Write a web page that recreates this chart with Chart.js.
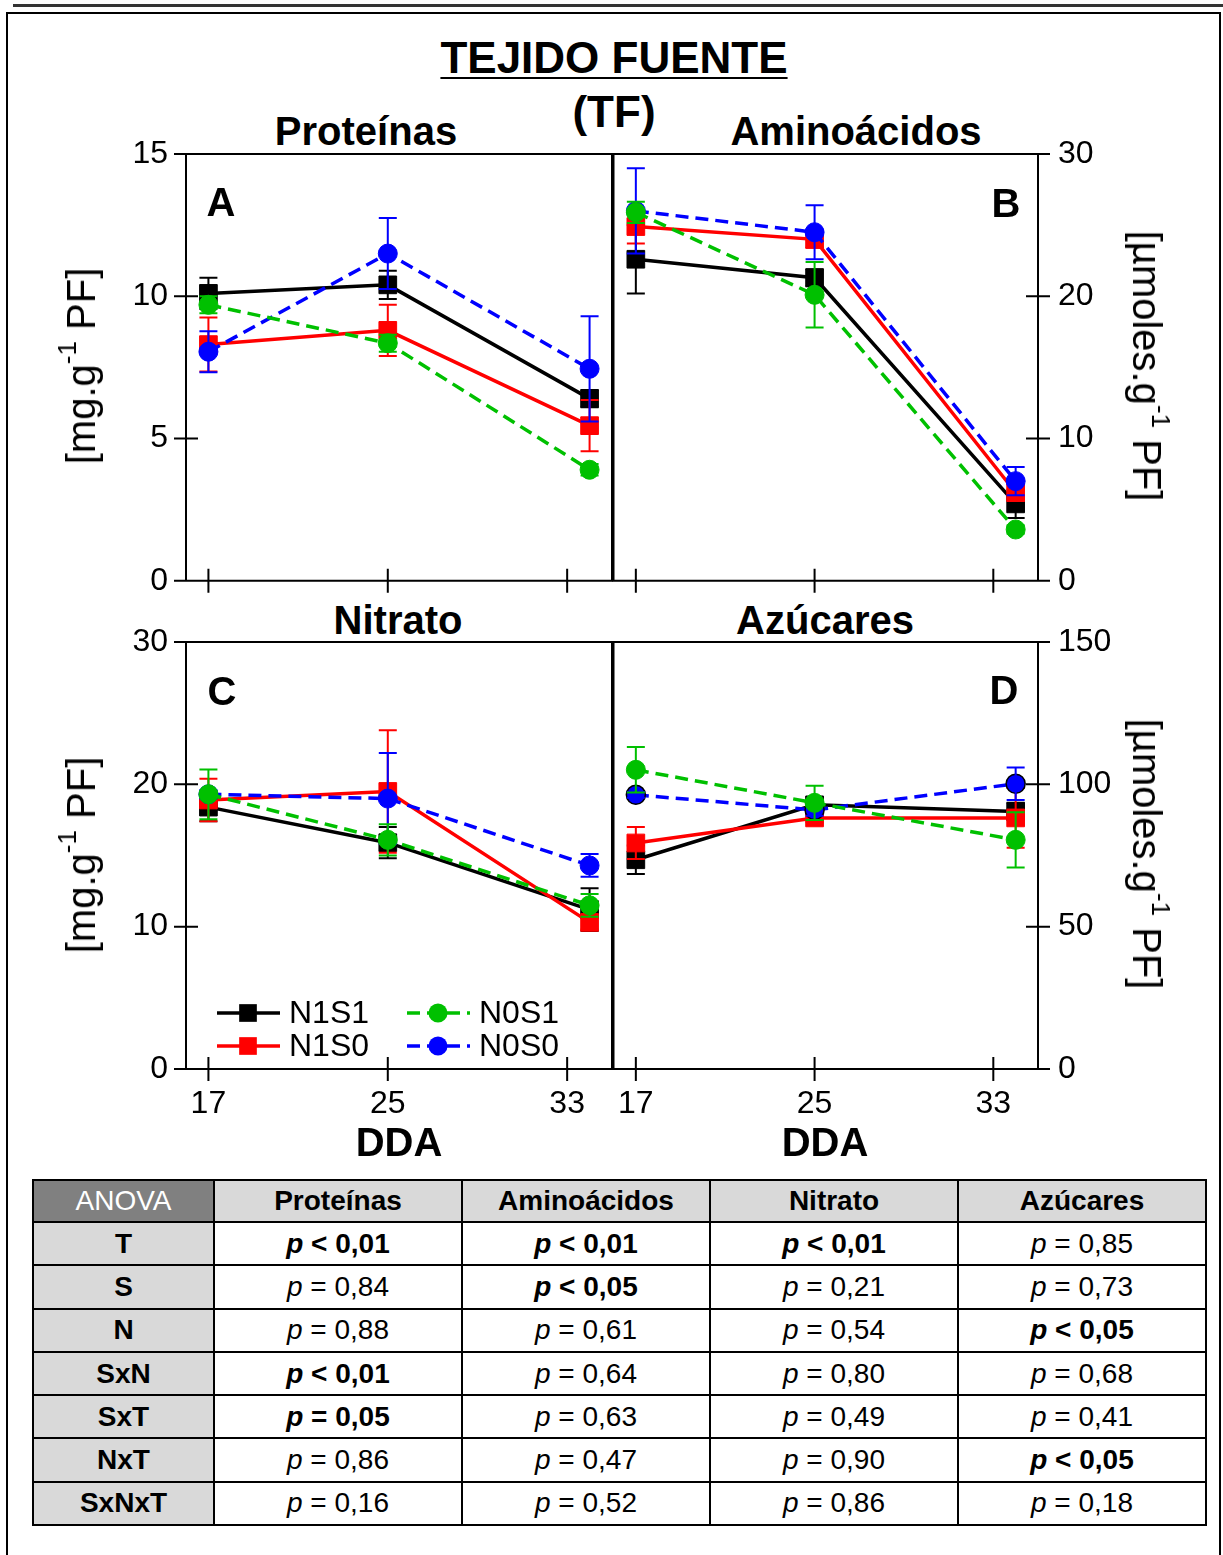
<!DOCTYPE html>
<html lang="es">
<head>
  <meta charset="UTF-8" />
  <title>Tejido fuente (TF)</title>
  <script src="https://cdn.jsdelivr.net/npm/chart.js@4"></script>
  <style>
    body {
      margin: 0;
      background: #fff;
      font-family: 'Liberation Sans', Arial, sans-serif;
      color: #000;
    }
    #hoja {
      position: relative;
      width: 1223px;
      height: 1555px;
      overflow: hidden;
    }
    .marco {
      position: absolute;
      left: 6px;
      top: 12px;
      width: 1215px;
      height: 1600px;
      border: 2px solid #000;
      box-sizing: border-box;
    }
    .linea-sup {
      position: absolute;
      left: 13px;
      top: 4px;
      width: 1210px;
      height: 3px;
      background: #333;
    }
    canvas { position: absolute; }
    .txt {
      position: absolute;
      white-space: nowrap;
      line-height: 1;
      transform: translate(-50%, -50%);
    }
    .titulo { font-size: 44px; font-weight: bold; }
    .subrayado {
      text-decoration: underline;
      text-decoration-thickness: 2px;
      text-underline-offset: 4px;
    }
    .sub { font-size: 40px; font-weight: bold; }
    .eje {
      position: absolute;
      white-space: nowrap;
      line-height: 1;
      font-size: 40px;
    }
    .eje sup { font-size: 26px; line-height: 0; vertical-align: 19px; }
    .izq { transform: translate(-50%, -50%) rotate(-90deg); }
    .der { transform: translate(-50%, -50%) rotate(90deg); }

    #anova {
      position: absolute;
      left: 32px;
      top: 1179px;
      border-collapse: collapse;
      table-layout: fixed;
      font-size: 28px;
    }
    #anova th, #anova td {
      border: 2px solid #000;
      text-align: center;
      padding: 0;
    }
    #anova th { height: 40px; background: #d9d9d9; font-weight: bold; }
    #anova th.esquina { background: #808080; color: #fff; font-weight: normal; }
    #anova td { height: 41.3px; }
    #anova td.efecto { background: #d9d9d9; font-weight: bold; }
  </style>
</head>
<body>
<div id="hoja">
  <div class="linea-sup"></div>
  <div class="marco"></div>

  <div class="txt titulo subrayado" style="left:614px; top:58px;">TEJIDO FUENTE</div>
  <div class="txt titulo" style="left:614px; top:112px;">(TF)</div>

  <div class="txt sub" style="left:366px; top:131px;">Proteínas</div>
  <div class="txt sub" style="left:856px; top:131px;">Aminoácidos</div>
  <div class="txt sub" style="left:398px; top:620px;">Nitrato</div>
  <div class="txt sub" style="left:825px; top:620px;">Azúcares</div>

  <!-- cada lienzo deja 40 px por encima y por debajo del área de trazado -->
  <canvas id="grafA" width="540" height="507" style="left:90px; top:114px;"></canvas>
  <canvas id="grafB" width="530" height="507" style="left:600px; top:114px;"></canvas>
  <canvas id="grafC" width="540" height="541" style="left:90px; top:602px;"></canvas>
  <canvas id="grafD" width="530" height="541" style="left:600px; top:602px;"></canvas>

  <div class="txt sub" style="left:221px; top:202px;">A</div>
  <div class="txt sub" style="left:1006px; top:203px;">B</div>
  <div class="txt sub" style="left:222px; top:691px;">C</div>
  <div class="txt sub" style="left:1004px; top:690px;">D</div>

  <div class="eje izq" style="left:81px; top:366px;">[mg.g<sup>-1</sup> PF]</div>
  <div class="eje izq" style="left:81px; top:855px;">[mg.g<sup>-1</sup> PF]</div>
  <div class="eje der" style="left:1147px; top:366px;">[µmoles.g<sup>-1</sup> PF]</div>
  <div class="eje der" style="left:1147px; top:854px;">[µmoles.g<sup>-1</sup> PF]</div>

  <div class="txt sub" style="left:399px; top:1142px;">DDA</div>
  <div class="txt sub" style="left:825px; top:1142px;">DDA</div>

  <table id="anova">
    <colgroup>
      <col style="width:181px"><col style="width:248px"><col style="width:248px"><col style="width:248px"><col style="width:248px">
    </colgroup>
    <thead></thead>
    <tbody></tbody>
  </table>
</div>

<script>
  const FUENTE = "'Liberation Sans', Arial, sans-serif";
  Chart.defaults.font.family = FUENTE;
  Chart.defaults.color = '#000';

  // días después de antesis
  const diasMuestreo = [17, 25, 34];
  const ticksDDA = [17, 25, 33];
  const tratamientos = ['N1S1', 'N1S0', 'N0S1', 'N0S0'];

  // medias y error estándar, una fila por tratamiento
  const proteinas     = [[10.1, 10.4, 6.4], [8.3, 8.8, 5.45], [9.7, 8.35, 3.9], [8.05, 11.5, 7.45]];
  const proteinasEE   = [[0.55, 0.5, 0.3], [0.95, 0.9, 0.9], [0.3, 0.3, 0.2], [0.72, 1.25, 1.85]];
  const aminoacidos   = [[22.6, 21.3, 5.4], [24.9, 24.0, 6.2], [25.9, 20.1, 3.6], [26.0, 24.5, 7.0]];
  const aminoacidosEE = [[2.4, 0.6, 1.0], [1.2, 0.6, 0.6], [0.75, 2.3, 0.3], [3.0, 1.9, 1.0]];
  const nitrato       = [[18.4, 15.9, 11.2], [18.9, 19.5, 10.3], [19.3, 16.1, 11.5], [19.3, 19.0, 14.3]];
  const nitratoEE     = [[1.0, 1.1, 1.5], [1.5, 4.3, 0.5], [1.75, 1.1, 0.8], [0.3, 3.2, 0.8]];
  const azucares      = [[73.5, 92.8, 90.5], [79.4, 88.2, 88.2], [105.1, 93.5, 80.5], [96.3, 91.0, 100.2]];
  const azucaresEE    = [[5.0, 2.5, 3.0], [5.6, 1.5, 10.5], [8.0, 6.0, 9.7], [1.0, 2.0, 5.7]];

  // tabla ANOVA
  const efectos = ['T', 'S', 'N', 'SxN', 'SxT', 'NxT', 'SxNxT'];
  const variables = ['Proteínas', 'Aminoácidos', 'Nitrato', 'Azúcares'];
  const pProteinas   = ['< 0,01', '= 0,84', '= 0,88', '< 0,01', '= 0,05', '= 0,86', '= 0,16'];
  const pAminoacidos = ['< 0,01', '< 0,05', '= 0,61', '= 0,64', '= 0,63', '= 0,47', '= 0,52'];
  const pNitrato     = ['< 0,01', '= 0,21', '= 0,54', '= 0,80', '= 0,49', '= 0,90', '= 0,86'];
  const pAzucares    = ['= 0,85', '= 0,73', '< 0,05', '= 0,68', '= 0,41', '< 0,05', '= 0,18'];

  const estilos = [
    { color: '#000000', punto: 'rect',   radio: 12.5, guiones: [],      capa: 4 },
    { color: '#ff0000', punto: 'rect',   radio: 12.5, guiones: [],      capa: 3 },
    { color: '#00c000', punto: 'circle', radio: 9.5,  guiones: [13, 7], capa: 1 },
    { color: '#0000ff', punto: 'circle', radio: 9.5,  guiones: [13, 7], capa: 2 }
  ];

  // marco del panel con marcas que cruzan los ejes
  const marco = {
    id: 'marco',
    beforeDatasetsDraw(chart, args, opts) {
      const { ctx, chartArea: a, scales: { x, y } } = chart;
      const t = 12;
      const ejeY = opts.lado === 'right' ? a.right : a.left;
      ctx.save();
      ctx.strokeStyle = '#000';
      ctx.lineWidth = 2;
      ctx.beginPath();
      ctx.rect(a.left, a.top, a.right - a.left, a.bottom - a.top);
      y.ticks.forEach(tk => {
        const py = y.getPixelForValue(tk.value);
        ctx.moveTo(ejeY - t, py);
        ctx.lineTo(ejeY + t, py);
      });
      x.ticks.forEach(tk => {
        const px = x.getPixelForValue(tk.value);
        ctx.moveTo(px, a.bottom - t);
        ctx.lineTo(px, a.bottom + t);
      });
      ctx.stroke();
      ctx.restore();
    }
  };

  // barras de error (media ± EE)
  const barrasError = {
    id: 'barrasError',
    afterDatasetDraw(chart, args) {
      const ds = chart.data.datasets[args.index];
      const y = chart.scales.y;
      const ctx = chart.ctx;
      ctx.save();
      ctx.setLineDash([]);
      ctx.strokeStyle = ds.borderColor;
      ctx.lineWidth = 2;
      ctx.beginPath();
      args.meta.data.forEach((pt, j) => {
        const v = ds.data[j].y, e = ds.ee[j];
        const y1 = y.getPixelForValue(v + e), y2 = y.getPixelForValue(v - e);
        ctx.moveTo(pt.x, y1); ctx.lineTo(pt.x, y2);
        ctx.moveTo(pt.x - 9, y1); ctx.lineTo(pt.x + 9, y1);
        ctx.moveTo(pt.x - 9, y2); ctx.lineTo(pt.x + 9, y2);
      });
      ctx.stroke();
      ctx.restore();
    }
  };

  // leyenda en dos columnas dentro del panel C
  const leyenda = {
    id: 'leyenda',
    afterDraw(chart, args, opts) {
      if (!opts.mostrar) return;
      const { ctx, chartArea: a } = chart;
      const celdas = [[0, 0, 0], [2, 1, 0], [1, 0, 1], [3, 1, 1]];
      ctx.save();
      celdas.forEach(([i, col, fila]) => {
        const ds = chart.data.datasets[i];
        const x0 = a.left + 31 + col * 190;
        const y0 = a.bottom - 56 + fila * 33;
        ctx.strokeStyle = ds.borderColor;
        ctx.lineWidth = ds.borderWidth;
        ctx.setLineDash(ds.borderDash);
        ctx.beginPath();
        ctx.moveTo(x0, y0);
        ctx.lineTo(x0 + 63, y0);
        ctx.stroke();
        ctx.setLineDash([]);
        ctx.fillStyle = ds.backgroundColor;
        const cx = x0 + 31;
        if (ds.pointStyle === 'rect') {
          const s = ds.pointRadius * Math.SQRT2;
          ctx.fillRect(cx - s / 2, y0 - s / 2, s, s);
        } else {
          ctx.beginPath();
          ctx.arc(cx, y0, ds.pointRadius, 0, Math.PI * 2);
          ctx.fill();
        }
        ctx.fillStyle = '#000';
        ctx.font = '32px ' + FUENTE;
        ctx.textBaseline = 'middle';
        ctx.fillText(ds.label, x0 + 72, y0 + 1);
      });
      ctx.restore();
    }
  };

  function conjuntos(medias, errores, bordeAzul) {
    return medias.map((m, i) => ({
      label: tratamientos[i],
      data: m.map((v, j) => ({ x: diasMuestreo[j], y: v })),
      ee: errores[i],
      borderColor: estilos[i].color,
      backgroundColor: estilos[i].color,
      borderWidth: 3.5,
      borderDash: estilos[i].guiones,
      tension: 0,
      pointStyle: estilos[i].punto,
      pointRadius: estilos[i].radio,
      pointBorderWidth: (bordeAzul && i === 3) ? 1.5 : 1,
      pointBorderColor: (bordeAzul && i === 3) ? '#000' : estilos[i].color,
      order: estilos[i].capa
    }));
  }

  function panel(id, medias, errores, cfg) {
    return new Chart(document.getElementById(id), {
      type: 'line',
      data: { datasets: conjuntos(medias, errores, cfg.bordeAzul) },
      options: {
        responsive: false,
        animation: false,
        events: [],
        layout: { padding: cfg.padding },
        plugins: {
          legend: { display: false },
          tooltip: { enabled: false },
          marco: { lado: cfg.lado },
          leyenda: { mostrar: !!cfg.leyenda }
        },
        scales: {
          x: {
            type: 'linear',
            min: 16,
            max: 35,
            afterBuildTicks: s => { s.ticks = ticksDDA.map(v => ({ value: v })); },
            afterFit: s => { s.height = cfg.altoX; },
            grid: { display: false, drawTicks: false },
            border: { display: false },
            ticks: { display: cfg.etiquetasX, font: { size: 32 }, padding: 16, maxRotation: 0, autoSkip: false }
          },
          y: {
            position: cfg.lado,
            min: 0,
            max: cfg.max,
            afterFit: s => { s.width = cfg.anchoY; },
            grid: { display: false, drawTicks: false },
            border: { display: false },
            ticks: { stepSize: cfg.paso, font: { size: 32 }, padding: cfg.lado === 'left' ? 18 : 20 }
          }
        }
      },
      plugins: [marco, barrasError, leyenda]
    });
  }

  panel('grafA', proteinas, proteinasEE, {
    lado: 'left', max: 15, paso: 5, anchoY: 96, altoX: 40.3, etiquetasX: false,
    padding: { top: 40, right: 18, left: 0, bottom: 0 }
  });
  panel('grafB', aminoacidos, aminoacidosEE, {
    lado: 'right', max: 30, paso: 10, anchoY: 92, altoX: 40.3, etiquetasX: false,
    padding: { top: 40, right: 0, left: 12, bottom: 0 }
  });
  panel('grafC', nitrato, nitratoEE, {
    lado: 'left', max: 30, paso: 10, anchoY: 96, altoX: 74, etiquetasX: true, leyenda: true,
    padding: { top: 40, right: 18, left: 0, bottom: 0 }
  });
  panel('grafD', azucares, azucaresEE, {
    lado: 'right', max: 150, paso: 50, anchoY: 92, altoX: 74, etiquetasX: true, bordeAzul: true,
    padding: { top: 40, right: 0, left: 12, bottom: 0 }
  });

  // tabla de resultados del ANOVA
  const cabecera = document.querySelector('#anova thead');
  const filaCab = document.createElement('tr');
  const esquina = document.createElement('th');
  esquina.className = 'esquina';
  esquina.textContent = 'ANOVA';
  filaCab.appendChild(esquina);
  variables.forEach(v => {
    const th = document.createElement('th');
    th.textContent = v;
    filaCab.appendChild(th);
  });
  cabecera.appendChild(filaCab);

  const columnasP = [pProteinas, pAminoacidos, pNitrato, pAzucares];
  const cuerpo = document.querySelector('#anova tbody');
  efectos.forEach((ef, r) => {
    const tr = document.createElement('tr');
    const td0 = document.createElement('td');
    td0.className = 'efecto';
    td0.textContent = ef;
    tr.appendChild(td0);
    columnasP.forEach(col => {
      const td = document.createElement('td');
      const s = col[r];
      const valor = parseFloat(s.slice(2).replace(',', '.'));
      const html = '<i>p</i> ' + s.replace('<', '&lt;');
      td.innerHTML = valor <= 0.05 ? '<b>' + html + '</b>' : html;
      tr.appendChild(td);
    });
    cuerpo.appendChild(tr);
  });
</script>
</body>
</html>
